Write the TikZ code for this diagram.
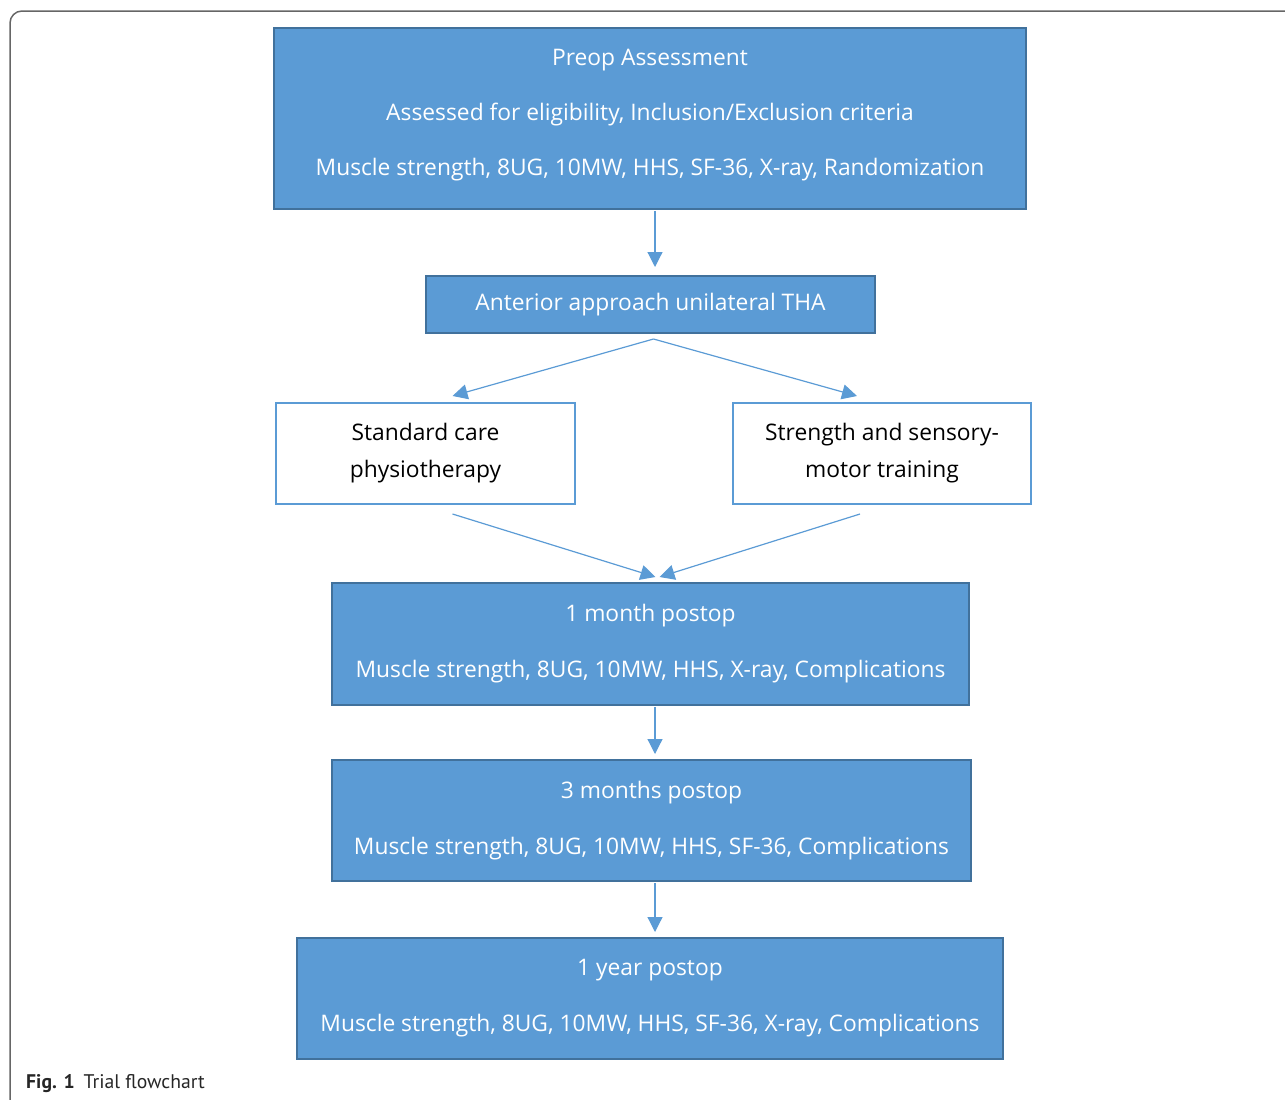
\documentclass[tikz,border=0pt]{standalone}
\usepackage{fontspec}
\setmainfont{Open Sans}
\newfontfamily\capfont{PT Sans}
\usetikzlibrary{positioning,calc,arrows.meta}
\definecolor{boxblue}{HTML}{5B9BD5}
\definecolor{boxedge}{HTML}{41719C}
\definecolor{framegray}{HTML}{666666}
\tikzset{block/.style={draw=boxedge,line width=2pt,fill=boxblue,text=white,align=center,inner sep=0pt},
         plainblock/.style={draw=boxblue,line width=2pt,fill=white,text=black,align=center,inner sep=0pt},
         line/.style={draw=boxblue,line width=1.2pt}
}
\tikzstyle{arrow} = [line,-{Triangle[length=15pt,width=15pt]}]

\begin{document}
\begin{tikzpicture}[x=1pt,y=-1pt]
\useasboundingbox (0,0) rectangle (1285,1100);
\draw[framegray,line width=1.5pt,rounded corners=12pt] (1300,11) -- (10,11) -- (10,1110);

\node[block,minimum width=752pt,minimum height=181pt,text depth=11.5pt,font=\fontsize{22.8}{55}\selectfont] (preop) at (650,118.5)
  {Preop Assessment\\Assessed for eligibility, Inclusion/Exclusion criteria\\Muscle strength, 8UG, 10MW, HHS, SF-36, X-ray, Randomization};
\node[block,minimum width=449pt,minimum height=57pt,font=\fontsize{22.8}{25}\selectfont] (tha) at (650.5,304.5)
  {Anterior approach unilateral THA};
\node[plainblock,minimum width=299pt,minimum height=101pt,font=\fontsize{22.8}{37}\selectfont] (std) at (425.5,453.5)
  {Standard care\\physiotherapy};
\node[plainblock,minimum width=298pt,minimum height=101pt,font=\fontsize{22.8}{37}\selectfont] (smt) at (882,453.5)
  {Strength and sensory-\\motor training};
\node[block,minimum width=637pt,minimum height=122pt,font=\fontsize{22.8}{56}\selectfont] (month) at (650.5,644)
  {1 month postop\\Muscle strength, 8UG, 10MW, HHS, X-ray, Complications};
\node[block,minimum width=639pt,minimum height=121pt,font=\fontsize{22.8}{56}\selectfont] (months) at (651.5,820.5)
  {3 months postop\\Muscle strength, 8UG, 10MW, HHS, SF-36, Complications};
\node[block,minimum width=706pt,minimum height=121pt,font=\fontsize{22.8}{56}\selectfont] (year) at (650,998.5)
  {1 year postop\\Muscle strength, 8UG, 10MW, HHS, SF-36, X-ray, Complications};
\node[anchor=base west,inner sep=0pt,text=black!85,font=\capfont\fontsize{19.7}{22}\selectfont] (caption) at (26,1088)
  {\textbf{Fig. 1}\hspace{9pt}Trial flowchart};

\coordinate (axis) at (655,0);
\draw[arrow,shorten <=1pt,shorten >=8pt] (preop.south -| axis) -- (tha.north -| axis);
\draw[arrow] ($(tha.south)+(3,5)$) -- ($(std.north)+(27,-6)$);
\draw[arrow] ($(tha.south)+(3,5)$) -- ($(smt.north)+(-25,-6)$);
\draw[arrow] ($(std.south)+(27,9)$) -- ($(month.north)+(5,-5)$);
\draw[arrow] ($(smt.south)+(-22,9)$) -- ($(month.north)+(9,-5)$);
\draw[arrow,shorten <=1pt,shorten >=5pt] (month.south -| axis) -- (months.north -| axis);
\draw[arrow,shorten <=1pt,shorten >=5pt] (months.south -| axis) -- (year.north -| axis);

\end{tikzpicture}
\end{document}
